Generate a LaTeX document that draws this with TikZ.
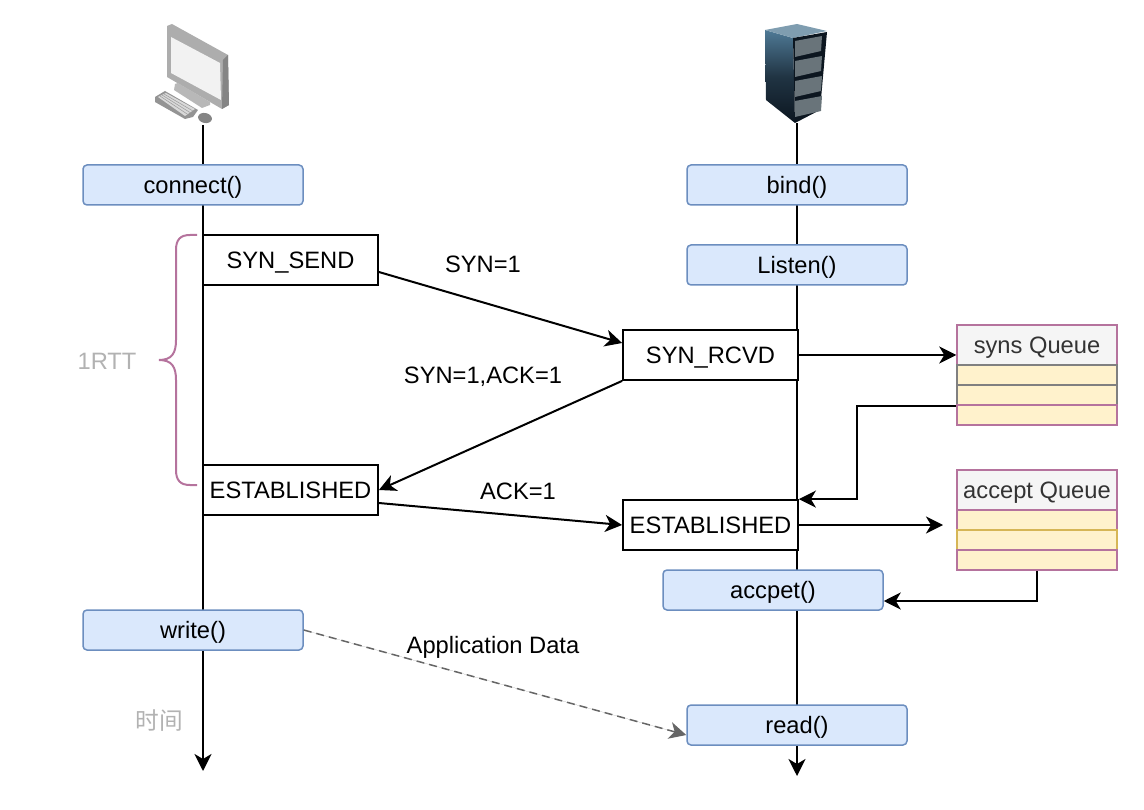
\documentclass[tikz,border=0pt]{standalone}
\usepackage{fontspec}
\setmainfont{Liberation Sans}
\newfontfamily\cjk{Noto Sans CJK SC}
\usetikzlibrary{arrows.meta}
\definecolor{callblue}{HTML}{DAE8FC}
\definecolor{callline}{HTML}{6C8EBF}
\definecolor{queuefill}{HTML}{FFF2CC}
\definecolor{queueline}{HTML}{B5739D}
\definecolor{queuegold}{HTML}{D6B656}
\definecolor{queuehead}{HTML}{F5F5F5}
\definecolor{rackblue}{HTML}{4F7A96}
\definecolor{racktop}{HTML}{7F9DB0}
\definecolor{rackdark}{HTML}{0C1620}
\definecolor{rackpanel}{HTML}{69747A}
\tikzset{
  label font/.style={inner sep=0pt,text height=17pt,text depth=0pt,font=\fontsize{23.7}{28}\selectfont},
  flow/.style={line width=2pt,-{Stealth[length=17pt,width=17pt,inset=5pt]}},
  call/.style={label font,draw=callline,fill=callblue,line width=1.5pt,rounded corners=4pt,minimum width=220pt,minimum height=40pt},
  state/.style={label font,draw=black,fill=white,line width=1.8pt,minimum width=175pt,minimum height=50pt},
  queuetitle/.style={label font,draw=queueline,fill=queuehead,text=black!80,line width=1.5pt,minimum width=160pt,minimum height=40pt},
  queuerow/.style={draw=#1,fill=queuefill,line width=1.5pt,minimum width=160pt,minimum height=20pt,inner sep=0pt},
  msg/.style={label font},
  note/.style={label font,text=black!30}
}
\begin{document}
\begin{tikzpicture}
    [x=1pt,y=-1pt]
    \useasboundingbox (0,0) rectangle (1144,810);
    %lifelines
    \coordinate (clienttop) at (203,125);
    \coordinate (clientend) at (203,771);
    \coordinate (servertop) at (797,123);
    \coordinate (serverend) at (797,776);
    \draw[flow] (clienttop)--(clientend);
    \draw[flow] (servertop)--(serverend);
    %computer
    \fill[black!32] (167,26)--(172,24)--(228,55)--(229,105)--(222,109)--(167,77)--cycle;
    \fill[black!48] (223,60)--(228,55)--(229,105)--(222,109)--cycle;
    \fill[black!5] (171,37)--(220,63)--(221,100)--(171,73)--cycle;
    \fill[black!28] (175,84)--(178,83)--(210,102)--(210,105)--(202,108)--(174,90)--cycle;
    \fill[black!42] (155,97)--(165,91)--(198,110)--(193,117)--(185,119)--(155,102)--cycle;
    \fill[black!15] (158,97)--(166,93)--(195,109)--(185,116)--cycle;
    \foreach \i in {1,2,3}
      \draw[black!40,line width=0.5pt] ({158+\i*2},{97-\i}) -- ({185+\i*2.5},{116-\i*1.75});
    \fill[black!48,rotate around={-12:(205,118)}] (205,118) ellipse (7pt and 5pt);
    %server
    \shade[top color=rackblue,bottom color=rackdark,middle color=rackdark!70!rackblue] (765,30)--(793,38)--(795,123)--(766,100)--cycle;
    \fill[racktop] (765,30)--(797,24)--(827,31)--(793,38)--cycle;
    \fill[rackdark] (793,38)--(827,32)--(820,110)--(795,123)--cycle;
    \foreach \i in {0,1,2,3}
      \fill[rackpanel] (795,{41+\i*20})--(822,{36+\i*20})--(821,{51+\i*20})--(795,{57+\i*20})--cycle;
    %calls
    \node[call] (connect) at (193,185) {connect()};
    \node[call] (bind) at (797,185) {bind()};
    \node[call] (listen) at (797,265) {Listen()};
    \node[call] (accpet) at (773,590) {accpet()};
    \node[call] (write) at (193,630) {write()};
    \node[call] (read) at (797,725) {read()};
    %states
    \node[state] (synsend) at (290.5,260) {SYN\_SEND};
    \node[state] (synrcvd) at (710.5,355) {SYN\_RCVD};
    \node[state] (estclient) at (290.5,490) {ESTABLISHED};
    \node[state] (estserver) at (710.5,525) {ESTABLISHED};
    %queues
    \node[queuetitle] (syns) at (1037,345) {syns Queue};
    \node[queuerow=black!50] (synsa) at (1037,375) {};
    \node[queuerow=black!50] (synsb) at (1037,395) {};
    \node[queuerow=queueline] (synsc) at (1037,415) {};
    \node[queuetitle] (accept) at (1037,490) {accept Queue};
    \node[queuerow=queueline] (accepta) at (1037,520) {};
    \node[queuerow=queuegold] (acceptb) at (1037,540) {};
    \node[queuerow=queueline] (acceptc) at (1037,560) {};
    %handshake
    \draw[flow] ([yshift=-12pt]synsend.east)--([yshift=12pt]synrcvd.west);
    \draw[flow] (synrcvd.south west)--(estclient.east);
    \draw[flow] ([yshift=-13pt]estclient.east)--(estserver.west);
    \coordinate (acceptin) at (943,525);
    \draw[flow] (synrcvd.east)--([yshift=-10pt]syns.west);
    \draw[flow] (synsb.south west)--++(-99,0)|-(estserver.north east);
    \draw[flow] (estserver.east)--(acceptin);
    \draw[flow] (acceptc.south)|-([yshift=-11pt]accpet.east);
    \draw[flow,line width=1.5pt,dash pattern=on 8pt off 5pt,draw=black!60,fill=black!60] (write.east)--([yshift=-10pt]read.west);
    %labels
    \node[msg] (syn) at (483,264) {SYN=1};
    \node[msg] (synack) at (483,375) {SYN=1,ACK=1};
    \node[msg] (ack) at (518,491) {ACK=1};
    \node[msg] (data) at (493,645) {Application Data};
    \node[note] (rtt) at (107,361) {1RTT};
    \node[note] (time) at (159,721) {\cjk 时间};
    %brace
    \draw[queueline,line width=2pt] (197,235)--(190,235) .. controls (180,235) and (176,240) .. (176,250)--(176,340) .. controls (176,353) and (172,360) .. (159,360) .. controls (172,360) and (176,367) .. (176,380)--(176,470) .. controls (176,480) and (180,485) .. (190,485)--(197,485);
\end{tikzpicture}
\end{document}
